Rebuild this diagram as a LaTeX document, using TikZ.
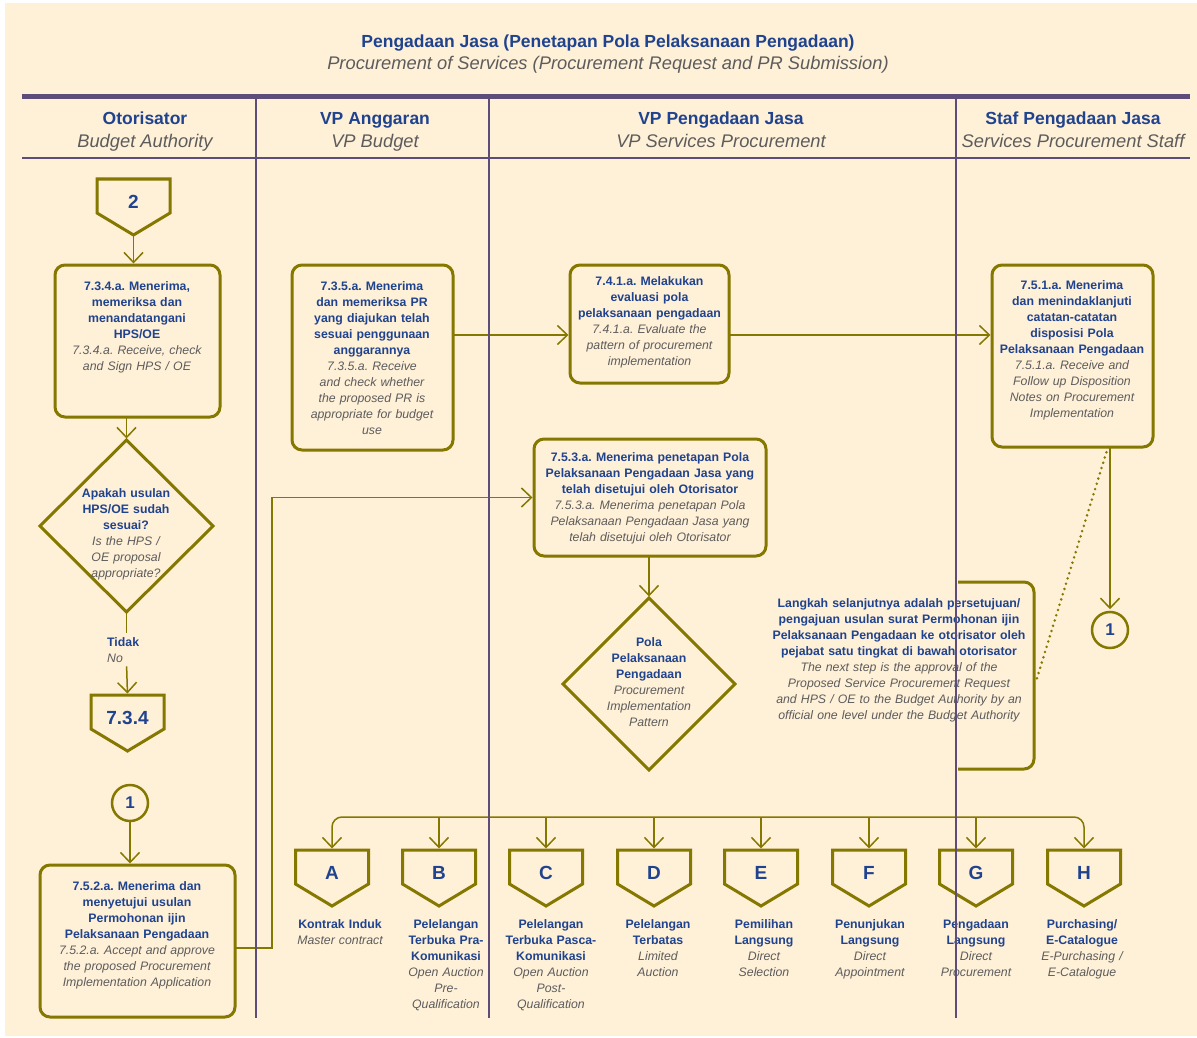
\documentclass[tikz,border=0pt]{standalone}
\usepackage{fontspec}
\setmainfont{Liberation Sans}
\usetikzlibrary{arrows.meta,shapes.geometric,calc}
\definecolor{cream}{HTML}{FFF0D8}
\definecolor{navy}{HTML}{1F438E}
\definecolor{greytxt}{HTML}{5C5C5C}
\definecolor{olive}{HTML}{857800}
\definecolor{lanecol}{HTML}{5C4D7A}
\frenchspacing
% bold Indonesian lines followed by italic English lines
\newcommand\bi[2]{{\bfseries\color{navy}#1}\\{\itshape\color{greytxt}#2}}
% down-pointing off-page connector outline around a node
\newcommand\pentagonof[1]{\draw[pentline] (#1.north west) -- (#1.north east) -- ([yshift=-34pt]#1.north east) -- ([yshift=-56pt]#1.north) -- ([yshift=-34pt]#1.north west) -- cycle;}
\begin{document}
\begin{tikzpicture}[x=1pt,y=-1pt,
  box/.style={draw=olive, line width=3pt, rounded corners=10pt, anchor=north west, inner sep=0pt, outer sep=0pt},
  dia/.style={diamond, draw=olive, line width=3pt, inner sep=0pt, outer sep=0pt},
  pent/.style={anchor=north, minimum width=73, minimum height=46, inner sep=0pt, outer sep=0pt, text=navy, font=\fontsize{19}{22}\selectfont\bfseries},
  pentline/.style={draw=olive, line width=3pt, line join=miter},
  circ/.style={circle, draw=olive, line width=2.5pt, minimum size=36, inner sep=0pt, text=navy, font=\fontsize{17}{20}\selectfont\bfseries},
  txt/.style={align=center, inner sep=0pt, anchor=north, font=\fontsize{12.3}{16}\selectfont},
  conn/.style={draw=olive, line width=1.5pt},
  arr/.style={conn, -{Straight Barb[length=10pt,width=19pt]}, shorten >=1.5pt},
  arrboth/.style={conn, {Straight Barb[length=10pt,width=19pt]}-{Straight Barb[length=10pt,width=19pt]}, shorten >=1.5pt, shorten <=1.5pt},
  dotline/.style={draw=olive, line width=2.8pt, line cap=round, dash pattern=on 0pt off 5.5pt},
  lane/.style={draw=lanecol, line width=2pt},
  headb/.style={anchor=base, inner sep=0pt, text=navy, font=\fontsize{17.5}{20}\selectfont\bfseries},
  headi/.style={anchor=base, inner sep=0pt, text=greytxt, font=\fontsize{18.3}{20}\selectfont\itshape}
]
% page
\fill[white] (0,0) rectangle (1197,1038);
\fill[cream] (5,3) rectangle (1197,1036);
\useasboundingbox (0,0) rectangle (1197,1038);

% title
\node[headb] (title) at (608,48) {Pengadaan Jasa (Penetapan Pola Pelaksanaan Pengadaan)};
\node[headi] (subtitle) at (608,69.5) {Procurement of Services (Procurement Request and PR Submission)};

% lane headings
\node[headb] (h1a) at (145,125) {Otorisator};
\node[headi] (h1b) at (145,147.5) {Budget Authority};
\node[headb] (h2a) at (375,125) {VP Anggaran};
\node[headi] (h2b) at (375,147.5) {VP Budget};
\node[headb] (h3a) at (721,125) {VP Pengadaan Jasa};
\node[headi] (h3b) at (721,147.5) {VP Services Procurement};
\node[headb] (h4a) at (1073,125) {Staf Pengadaan Jasa};
\node[headi] (h4b) at (1073,147.5) {Services Procurement Staff};

% ---- Otorisator lane
\node[pent] (c2) at (133.5,179) {2};
\pentagonof{c2}
\coordinate (c2tip) at ([yshift=-56pt]c2.north);

\node[box, minimum width=165, minimum height=152] (b734) at (55,265) {};
\node[txt, text width=200] (t734) at (137,281)
  {\bi{7.3.4.a. Menerima,\\memeriksa dan\\menandatangani\\HPS/OE}{7.3.4.a. Receive, check\\and Sign HPS / OE}};

\node[dia, minimum width=173, minimum height=172] (d1) at (126.5,526) {};
\node[txt, text width=150] (td1) at (126,488)
  {\bi{Apakah usulan\\HPS/OE sudah\\sesuai?}{Is the HPS /\\OE proposal\\appropriate?}};

\node[inner sep=0pt, anchor=north west, text width=60, align=left, font=\fontsize{12.3}{16}\selectfont] (lbNo) at (107,637)
  {{\bfseries\color{navy}Tidak}\\{\itshape\color{greytxt}No}};

\node[pent] (c734) at (127.5,695) {7.3.4};
\pentagonof{c734}

\node[circ] (c1L) at (130,803) {1};

\node[box, minimum width=195, minimum height=152] (b752) at (40,865) {};
\node[txt, text width=230] (t752) at (137,881)
  {\bi{7.5.2.a. Menerima dan\\menyetujui usulan\\Permohonan ijin\\Pelaksanaan Pengadaan}{7.5.2.a. Accept and approve\\the proposed Procurement\\Implementation Application}};

% ---- VP Anggaran lane
\node[box, minimum width=161, minimum height=185] (b735) at (292,265) {};
\node[txt, text width=200] (t735) at (372,281)
  {\bi{7.3.5.a. Menerima\\dan memeriksa PR\\yang diajukan telah\\sesuai penggunaan\\anggarannya}{7.3.5.a. Receive\\and check whether\\the proposed PR is\\appropriate for budget\\use}};

% ---- VP Pengadaan Jasa lane
\node[box, minimum width=159, minimum height=118] (b741) at (570,265) {};
\node[txt, text width=200] (t741) at (649.5,276)
  {\bi{7.4.1.a. Melakukan\\evaluasi pola\\pelaksanaan pengadaan}{7.4.1.a. Evaluate the\\pattern of procurement\\implementation}};

\node[box, minimum width=232, minimum height=117] (b753) at (534,439) {};
\node[txt, text width=260] (t753) at (650,452)
  {\bi{7.5.3.a. Menerima penetapan Pola\\Pelaksanaan Pengadaan Jasa yang\\telah disetujui oleh Otorisator}{7.5.3.a. Menerima penetapan Pola\\Pelaksanaan Pengadaan Jasa yang\\telah disetujui oleh Otorisator}};

\node[dia, minimum width=172, minimum height=172] (d2) at (649,684) {};
\node[txt, text width=150] (td2) at (649,637)
  {\bi{Pola\\Pelaksanaan\\Pengadaan}{Procurement\\Implementation\\Pattern}};

% note with bracket
\node[txt, text width=290] (ann) at (899,598)
  {\bi{Langkah selanjutnya adalah persetujuan/\\pengajuan usulan surat Permohonan ijin\\Pelaksanaan Pengadaan ke otorisator oleh\\pejabat satu tingkat di bawah otorisator}{The next step is the approval of the\\Proposed Service Procurement Request\\and HPS / OE to the Budget Authority by an\\official one level under the Budget Authority}};
\draw[draw=olive, line width=3pt, rounded corners=10pt] (958,582) -- (1034,582) -- (1034,769) -- (958,769);
\coordinate (brk) at (1035.5,683);

% ---- Staf Pengadaan Jasa lane
\node[box, minimum width=161, minimum height=182] (b751) at (992,265) {};
\node[txt, text width=200] (t751) at (1072,280)
  {\bi{7.5.1.a. Menerima\\dan menindaklanjuti\\catatan-catatan\\disposisi Pola\\Pelaksanaan Pengadaan}{7.5.1.a. Receive and\\Follow up Disposition\\Notes on Procurement\\Implementation}};

\node[circ] (c1R) at (1110,630) {1};

% ---- procurement methods
\foreach \n/\x in {A/332,B/439,C/546,D/654,E/761,F/869,G/976,H/1084}{
  \node[pent] (p\n) at (\x,850) {\n};
  \pentagonof{p\n}
}
\node[txt, text width=110] (lA) at (340,919) {\bi{Kontrak Induk}{Master contract}};
\node[txt, text width=110] (lB) at (446,919) {\bi{Pelelangan\\Terbuka Pra-\\Komunikasi}{Open Auction\\Pre-\\Qualification}};
\node[txt, text width=110] (lC) at (551,919) {\bi{Pelelangan\\Terbuka Pasca-\\Komunikasi}{Open Auction\\Post-\\Qualification}};
\node[txt, text width=110] (lD) at (658,919) {\bi{Pelelangan\\Terbatas}{Limited\\Auction}};
\node[txt, text width=110] (lE) at (764,919) {\bi{Pemilihan\\Langsung}{Direct\\Selection}};
\node[txt, text width=110] (lF) at (870,919) {\bi{Penunjukan\\Langsung}{Direct\\Appointment}};
\node[txt, text width=110] (lG) at (976,919) {\bi{Pengadaan\\Langsung}{Direct\\Procurement}};
\node[txt, text width=110] (lH) at (1082,919) {\bi{Purchasing/\\E-Catalogue}{E-Purchasing /\\E-Catalogue}};

% ---- connectors
\coordinate (row) at (0,335);
\coordinate (hub) at (0,817);
\coordinate (bend) at (272,0);
\draw[arr] (c2tip) -- (c2tip |- b734.north);
\draw[arr] (d1.north |- b734.south) -- (d1.north);
\draw[conn, shorten >=4pt] (d1.south) -- (d1.south |- lbNo.north);
\draw[arr, shorten <=4pt] (d1.south |- lbNo.south) -- (c734.north);
\draw[arr] (c1L.south) -- (c1L.south |- b752.north);
\draw[arr] ([yshift=-7pt]b752.east) -| (bend |- b753.west) -- (b753.west);
\draw[arr] (b735.east |- row) -- (b741.west |- row);
\draw[arr] (b741.east |- row) -- (b751.west |- row);
\draw[arr] (d2.north |- b753.south) -- (d2.north);
\draw[arr] (c1R.north |- b751.south) -- (c1R.north);
\draw[dotline] ([xshift=-2pt]c1R.north |- b751.south) -- (brk);
\draw[arrboth, rounded corners=10pt] (pA.north) |- (hub -| pD.north) -| (pH.north);
\foreach \n in {B,C,D,E,F,G}{
  \draw[arr] (hub -| p\n.north) -- (p\n.north);
}

% lane frame
\draw[lane, line width=5pt] (22,96.5) -- (1190,96.5);
\draw[lane] (22,158) -- (1190,158);
\foreach \x in {256,489,956}{
  \draw[lane] (\x,99) -- (\x,1018);
}
\end{tikzpicture}
\end{document}
